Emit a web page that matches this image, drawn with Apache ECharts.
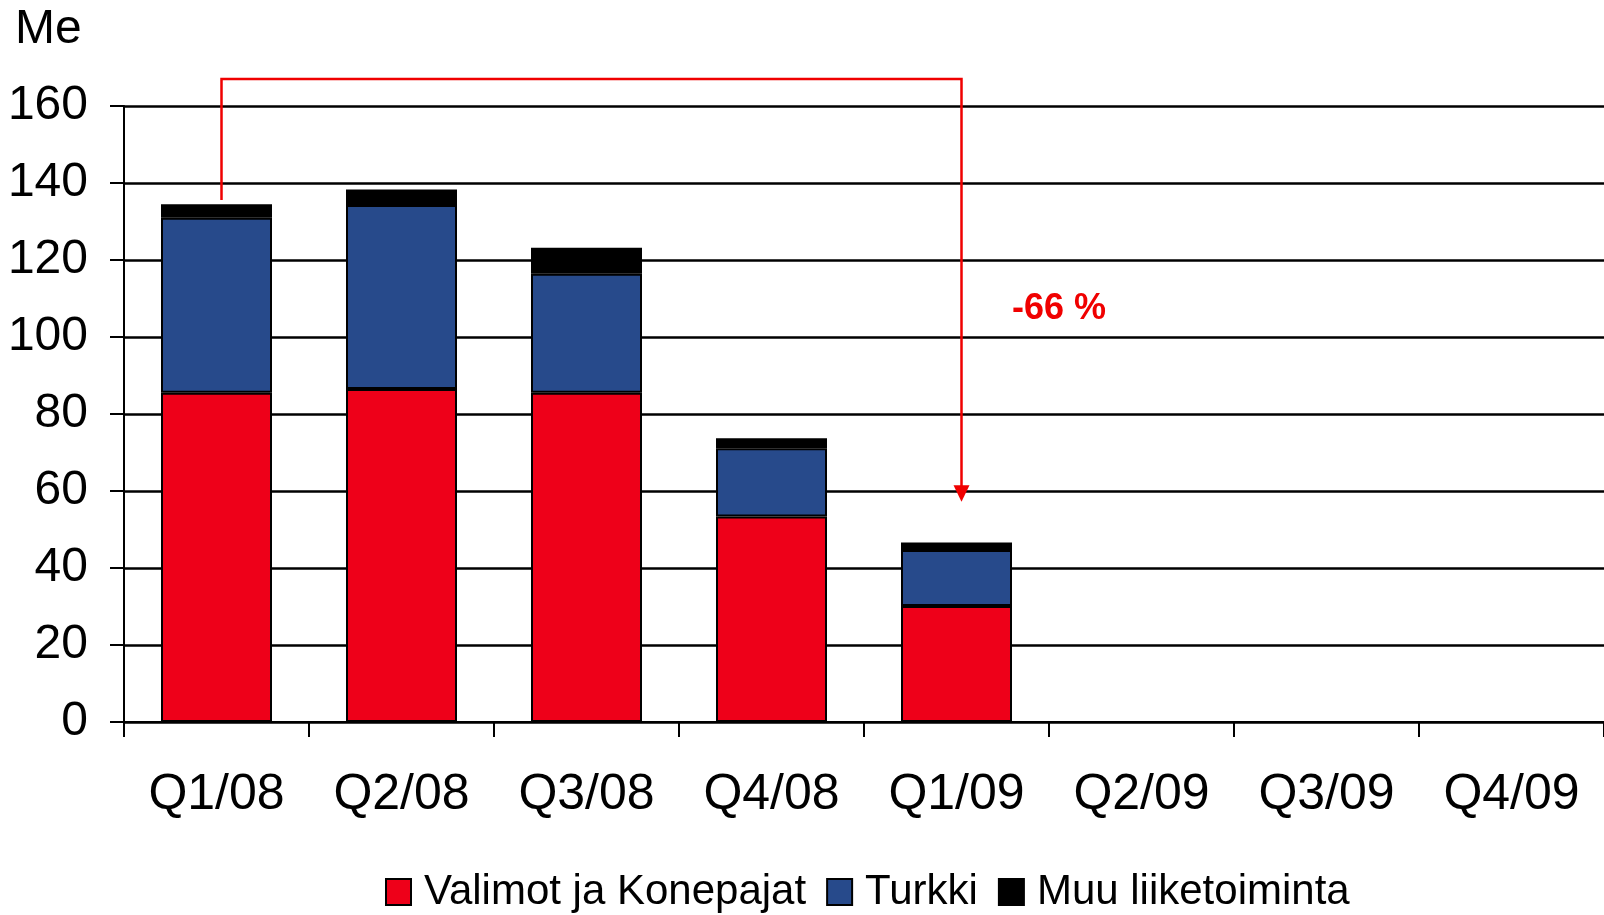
<!DOCTYPE html>
<html>
<head>
<meta charset="utf-8">
<script src="https://cdn.jsdelivr.net/npm/echarts@6/dist/echarts.min.js"></script>
<style>
  html, body { margin: 0; padding: 0; background: #fff; }
  #chart { width: 1604px; height: 915px; }
</style>
</head>
<body>
<div id="chart"></div>
<script>
const quarters = ['Q1/08', 'Q2/08', 'Q3/08', 'Q4/08', 'Q1/09', 'Q2/09', 'Q3/09', 'Q4/09']
const valimot = [85.5, 86.5, 85.5, 53.4, 30.1, null, null, null]
const turkki = [45.5, 47.8, 30.9, 17.7, 14.6, null, null, null]
const muu = [3.5, 4.0, 6.8, 2.6, 1.9, null, null, null]
const yTicks = { min: 0, max: 160, interval: 20 }

// arrow from Q1/08 down to Q1/09 (category index, value)
const arrowPath = [[0, 135.6], [0, 167], [4, 167], [4, 61]]
const arrowTip = [4, 57.2]

const font = 'Liberation Sans, Arial, sans-serif'
const RED = '#EE0019'
const BLUE = '#274A8B'
const ARROW_RED = '#F00000'

const chart = echarts.init(document.getElementById('chart'))

const barSeries = (name, data, color) => ({
  name: name,
  type: 'bar',
  stack: 'total',
  barWidth: '60%',
  data: data,
  itemStyle: { color: color, borderColor: '#000', borderWidth: 2 }
})

var option = {
  animation: false,
  backgroundColor: '#fff',
  grid: { left: 124, top: 106, width: 1483, height: 616 },
  legend: {
    left: 380,
    top: 866,
    icon: 'rect',
    itemWidth: 25,
    itemHeight: 26,
    itemGap: 20,
    textStyle: { fontFamily: font, fontSize: 42, color: '#000', padding: [0, 0, 0, 8] },
    data: ['Valimot ja Konepajat', 'Turkki', 'Muu liiketoiminta']
  },
  xAxis: {
    type: 'category',
    data: quarters,
    axisLine: { lineStyle: { color: '#000', width: 2 } },
    axisTick: { show: true, length: 15, interval: 0, lineStyle: { color: '#000', width: 2 } },
    axisLabel: { fontFamily: font, fontSize: 50, color: '#000', margin: 48, interval: 0 },
    splitLine: { show: false }
  },
  yAxis: {
    type: 'value',
    min: yTicks.min,
    max: yTicks.max,
    interval: yTicks.interval,
    axisLine: { show: true, lineStyle: { color: '#000', width: 2 } },
    axisTick: { show: true, length: 14, lineStyle: { color: '#000', width: 2 } },
    axisLabel: { fontFamily: font, fontSize: 48, color: '#000', margin: 36 },
    splitLine: { lineStyle: { color: '#000', width: 2.5 } }
  },
  graphic: [
    {
      id: 'unit',
      type: 'text',
      left: 15,
      top: 6,
      style: { text: 'Me', fontFamily: font, fontSize: 48, fill: '#000' }
    },
    {
      id: 'change',
      type: 'text',
      left: 1012,
      top: 291,
      style: { text: '-66 %', fontFamily: font, fontSize: 36, fontWeight: 'bold', fill: ARROW_RED }
    }
  ],
  series: [
    barSeries('Valimot ja Konepajat', valimot, RED),
    barSeries('Turkki', turkki, BLUE),
    barSeries('Muu liiketoiminta', muu, '#000')
  ]
}

chart.setOption(option)

// arrow drawn in pixels converted from the axes, nudged a little right like the original
const toPx = (p) => {
  const xy = chart.convertToPixel({ gridIndex: 0 }, p)
  return [xy[0] + 5, xy[1]]
}
const pts = arrowPath.map(toPx)
const tip = toPx(arrowTip)
chart.setOption({
  graphic: [
    {
      id: 'arrowLine',
      type: 'polyline',
      shape: { points: pts },
      style: { stroke: ARROW_RED, lineWidth: 2.5, fill: null },
      z: 10
    },
    {
      id: 'arrowHead',
      type: 'polygon',
      shape: { points: [[tip[0] - 8, pts[3][1] - 2], [tip[0] + 8, pts[3][1] - 2], tip] },
      style: { fill: ARROW_RED },
      z: 10
    }
  ]
})
</script>
</body>
</html>
